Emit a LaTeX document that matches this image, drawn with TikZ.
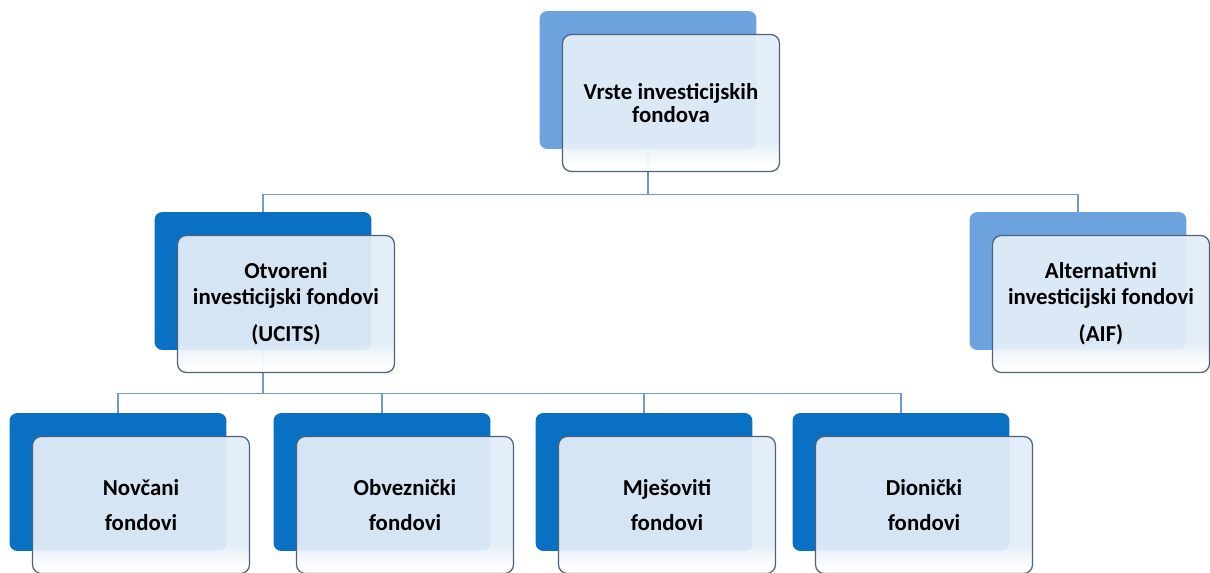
\documentclass[tikz,border=0pt]{standalone}
\usepackage{fontspec}
\setmainfont{Carlito}
\usetikzlibrary{backgrounds}

\definecolor{lightbox}{HTML}{6CA2DE}
\definecolor{darkbox}{HTML}{0A70C3}
\definecolor{frontfill}{HTML}{E2EDF8}
\definecolor{frontline}{HTML}{4E6278}
\definecolor{linkline}{HTML}{6F9BD0}
\pgfdeclareverticalshading{frontshade}{100bp}{color(0bp)=(white); color(27bp)=(white); color(36bp)=(frontfill); color(100bp)=(frontfill)}

\begin{document}
\begin{tikzpicture}[x=0.02cm, y=-0.02cm,
        backbox/.style={rounded corners=4.5pt, minimum width=4.34cm, minimum height=2.76cm, inner sep=0pt, fill=#1},
        frontbox/.style={draw=frontline, line width=.7pt, rounded corners=5pt, minimum width=4.34cm, minimum height=2.74cm,
            inner sep=0pt, align=center, shading=frontshade, fill opacity=.94, text opacity=1,
            font=\bfseries\fontsize{13}{13.5}\selectfont},
        link/.style={draw=linkline, line width=.9pt}]
    \useasboundingbox (0,0) rectangle (1210,572);

    % top level
    \node[backbox=lightbox] (vrste) at (648,80) {};
    \node[frontbox, xshift=.46cm, yshift=-.46cm] (vrstef) at (vrste) {Vrste investicijskih\\fondova};

    % second level
    \node[backbox=darkbox] (ucits) at (263,281) {};
    \node[frontbox, xshift=.46cm, yshift=-.46cm] (ucitsf) at (ucits) {Otvoreni\\[1pt]investicijski fondovi\\[8pt](UCITS)};
    \node[backbox=lightbox] (aif) at (1078,281) {};
    \node[frontbox, xshift=.46cm, yshift=-.46cm] (aiff) at (aif) {Alternativni\\[1pt]investicijski fondovi\\[8pt](AIF)};

    % third level
    \foreach \name/\x/\txt in {novcani/118/Novčani, obveznicki/382/Obveznički, mjesoviti/644/Mješoviti, dionicki/901/Dionički}{
        \node[backbox=darkbox] (\name) at (\x,482) {};
        \node[frontbox, xshift=.46cm, yshift=-.46cm] (\name f) at (\name) {\txt\\[6.5pt]fondovi};
    }

    \begin{scope}[on background layer]
        \draw[link] (vrste.south) -- ++(0,45) -| (ucits.north);
        \draw[link] (vrste.south) -- ++(0,45) -| (aif.north);
        \foreach \name in {novcani, obveznicki, mjesoviti, dionicki}
            \draw[link] (ucits.south) -- ++(0,43) -| (\name.north);
    \end{scope}
\end{tikzpicture}
\end{document}
